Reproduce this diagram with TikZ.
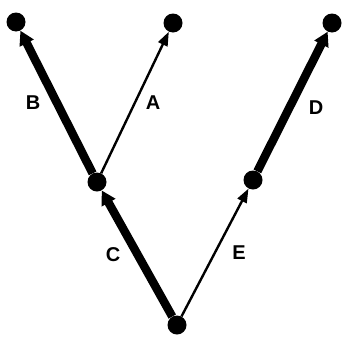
\documentclass[tikz,border=0pt]{standalone}
\usepackage{fontspec}
\setmainfont{Liberation Sans}
\usetikzlibrary{arrows.meta}
\begin{document}
\begin{tikzpicture}[x=1pt,y=-1pt,
  dot/.style={circle,fill=black,inner sep=0pt,minimum size=19pt},
  thickedge/.style={line width=8.5pt,-{Triangle[width=15pt,length=14pt]}},
  thinedge/.style={line width=2.4pt,-{Triangle[width=10pt,length=14pt]}},
  lab/.style={font=\fontsize{20}{20}\selectfont\bfseries}]
\useasboundingbox (0,0) rectangle (347,343);
\node[dot] (root) at (177,325) {};
\node[dot] (l) at (97,182) {};
\node[dot] (r) at (253,180) {};
\node[dot] (tl) at (16,22) {};
\node[dot] (tm) at (173,23) {};
\node[dot] (tr) at (332,23) {};
\draw[thickedge] (root) -- (l);
\draw[thickedge] (l) -- (tl);
\draw[thinedge] (l) -- (tm);
\draw[thinedge] (root) -- (r);
\draw[thickedge] (r) -- (tr);
\node[lab] (B) at (33,103) {B};
\node[lab] (A) at (153,103) {A};
\node[lab] (D) at (316,108) {D};
\node[lab] (C) at (113,255) {C};
\node[lab] (E) at (239,253) {E};
\end{tikzpicture}
\end{document}
